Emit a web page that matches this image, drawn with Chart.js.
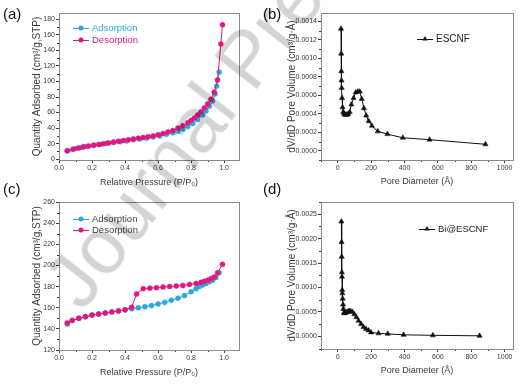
<!DOCTYPE html>
<html>
<head>
<meta charset="utf-8">
<title>Isotherms and pore size distribution</title>
<script src="https://cdn.jsdelivr.net/npm/chart.js"></script>
<style>
  html, body { margin: 0; padding: 0; background: #fff; }
  #sheet { position: relative; width: 525px; height: 390px; overflow: hidden; }
  #sheet canvas { position: absolute; }
  #mark {
    position: absolute; left: 30px; top: 272px;
    transform-origin: 0 0; transform: rotate(-52deg);
    font: 78px 'Liberation Sans', Arial, sans-serif; line-height: 1;
    white-space: nowrap; color: rgba(0, 0, 0, 0.17); pointer-events: none;
  }
</style>
</head>
<body>
<div id="sheet">
  <canvas id="chartA" width="262" height="195" style="left:0;top:0"></canvas>
  <canvas id="chartB" width="263" height="195" style="left:262px;top:0"></canvas>
  <canvas id="chartC" width="262" height="210" style="left:0;top:180px"></canvas>
  <canvas id="chartD" width="263" height="210" style="left:262px;top:180px"></canvas>
  <div id="mark">Journal Pre-proof</div>
</div>
<script>
// (a) ESCNF isotherm
const aAdsP = [0.05, 0.08, 0.11, 0.14, 0.17, 0.21, 0.25, 0.29, 0.33, 0.37, 0.41, 0.45, 0.49, 0.53, 0.57, 0.61, 0.65, 0.69, 0.72, 0.75, 0.78, 0.81, 0.84, 0.87, 0.89, 0.91, 0.93, 0.945, 0.955, 0.97];
const aAdsQ = [10.5, 12.5, 14, 15.5, 16.5, 18, 19, 20.5, 21.5, 22.5, 23.5, 25, 26, 27, 28.5, 30, 32, 34, 36, 39, 42, 46, 51, 57, 62, 68, 75, 84, 94, 112];
const aDesP = [0.05, 0.09, 0.12, 0.15, 0.18, 0.21, 0.24, 0.27, 0.30, 0.33, 0.36, 0.39, 0.42, 0.45, 0.48, 0.51, 0.54, 0.57, 0.60, 0.63, 0.66, 0.69, 0.72, 0.75, 0.78, 0.80, 0.82, 0.84, 0.86, 0.88, 0.90, 0.92, 0.94, 0.96, 0.98, 0.99];
const aDesQ = [11, 13, 14.5, 16, 17, 18, 19, 20, 21, 22, 23, 24, 25, 26, 27, 28, 29, 30, 31.5, 33, 35, 37, 40, 43, 47, 50, 53, 57, 61, 66, 71, 77, 86, 102, 148, 173];

// (b) ESCNF pore size distribution
const bDiam = [20, 21, 22, 23, 24, 26, 29, 33, 38, 44, 50, 57, 64, 72, 82, 95, 108, 120, 132, 144, 157, 171, 186, 205, 240, 298, 390, 550, 885];
const bVol = [0.00132, 0.00105, 0.00086, 0.00076, 0.00068, 0.00057, 0.00047, 0.00042, 0.00040, 0.00039, 0.00039, 0.00039, 0.00040, 0.00042, 0.00050, 0.00057, 0.00063, 0.00064, 0.00064, 0.00056, 0.00046, 0.00038, 0.00032, 0.00027, 0.00021, 0.00018, 0.00014, 0.00012, 0.00007];

// (c) Bi@ESCNF isotherm
const cAdsP = [0.05, 0.08, 0.12, 0.16, 0.20, 0.24, 0.28, 0.32, 0.36, 0.40, 0.44, 0.48, 0.52, 0.56, 0.60, 0.64, 0.68, 0.72, 0.76, 0.80, 0.83, 0.85, 0.87, 0.89, 0.91, 0.93, 0.95, 0.97];
const cAdsQ = [144.5, 148, 150, 151.5, 153, 154, 155, 156, 157, 158, 159, 160, 161, 162, 163.5, 165, 167, 169, 171.5, 175, 178, 180, 181.5, 183, 184.5, 186, 188.5, 193];
const cDesP = [0.05, 0.08, 0.12, 0.16, 0.20, 0.24, 0.28, 0.32, 0.36, 0.40, 0.44, 0.47, 0.51, 0.55, 0.59, 0.63, 0.67, 0.71, 0.75, 0.79, 0.83, 0.86, 0.88, 0.90, 0.92, 0.94, 0.96, 0.99];
const cDesQ = [145.5, 148, 150, 151.5, 153, 154, 155, 156, 157, 158, 160.5, 173, 178, 178.5, 179, 179.5, 180, 180.5, 181, 182, 183, 184, 185, 186, 187.5, 189, 193, 201];

// (d) Bi@ESCNF pore size distribution
const dDiam = [22, 23, 24, 25, 26, 27, 28, 30, 32, 34, 37, 41, 46, 52, 58, 64, 71, 79, 88, 100, 112, 125, 140, 155, 170, 185, 200, 245, 300, 395, 570, 850];
const dVol = [0.00235, 0.00193, 0.00163, 0.00131, 0.00122, 0.00095, 0.00088, 0.00077, 0.00065, 0.00056, 0.00048, 0.00047, 0.00048, 0.00049, 0.0005, 0.00051, 0.00052, 0.00051, 0.0005, 0.00045, 0.00039, 0.00032, 0.00025, 0.00019, 0.00015, 0.00012, 0.00008, 0.00006, 0.00005, 0.00003, 0.00002, 0.00001];

const FONT = "'Liberation Sans', Arial, sans-serif";
const INK = '#3a3a3a';
const FRAME = '#8a8a8a';
const CYAN = '#2ba6de';
const PINK = '#e2177c';

function xy(xs, ys) {
  return xs.map((x, i) => ({ x: x, y: ys[i] }));
}

function series(label, xs, ys, color, style, r) {
  return {
    label: label, data: xy(xs, ys), showLine: true,
    borderColor: color, backgroundColor: color, borderWidth: 1,
    pointStyle: style, pointRadius: r, pointBorderWidth: 0.5, pointBorderColor: color
  };
}

// odd multiples of the minor step = halfway between major ticks
function minorValues(scale, step) {
  const out = [];
  for (let k = Math.ceil(scale.min / step); k * step <= scale.max; k++) {
    if (k % 2 !== 0) out.push(k * step);
  }
  return out;
}

const framePlugin = {
  id: 'frame',
  afterDraw(chart, args, o) {
    const ctx = chart.ctx, a = chart.chartArea;
    const xs = chart.scales.x, ys = chart.scales.y;
    ctx.save();

    ctx.strokeStyle = INK;
    ctx.lineWidth = 1;
    ctx.beginPath();
    minorValues(xs, o.xMinor).forEach(v => {
      const px = Math.round(xs.getPixelForValue(v)) + 0.5;
      ctx.moveTo(px, a.bottom);
      ctx.lineTo(px, a.bottom + 2);
    });
    minorValues(ys, o.yMinor).forEach(v => {
      const py = Math.round(ys.getPixelForValue(v)) + 0.5;
      ctx.moveTo(a.left, py);
      ctx.lineTo(a.left - 2, py);
    });
    ctx.stroke();

    ctx.strokeStyle = FRAME;
    ctx.strokeRect(Math.round(a.left) + 0.5, Math.round(a.top) + 0.5,
      Math.round(a.right - a.left), Math.round(a.bottom - a.top));

    o.legend.forEach((item, i) => {
      const y = o.legendY + i * o.legendGap;
      ctx.strokeStyle = item.color;
      ctx.beginPath();
      ctx.moveTo(o.legendX, y + 0.5);
      ctx.lineTo(o.legendX + 16, y + 0.5);
      ctx.stroke();
      ctx.fillStyle = item.color;
      Chart.helpers.drawPoint(ctx, { pointStyle: item.style, radius: item.radius, rotation: 0, borderWidth: 0 },
        o.legendX + 8, y);
      ctx.fillStyle = item.text;
      ctx.font = o.legendSize + 'px ' + FONT;
      ctx.textAlign = 'left';
      ctx.textBaseline = 'middle';
      ctx.fillText(item.label, o.legendX + 19, y);
    });

    ctx.fillStyle = '#111';
    ctx.font = '15px ' + FONT;
    ctx.textAlign = 'left';
    ctx.textBaseline = 'middle';
    ctx.fillText(o.letter, o.letterX, o.letterY);
    ctx.restore();
  }
};

function axis(a, dir) {
  return {
    type: 'linear', min: a.min, max: a.max,
    afterFit: s => { if (dir === 'x') s.height = a.size; else s.width = a.size; },
    border: { display: false },
    grid: { drawOnChartArea: false, drawTicks: true, tickLength: 3, color: INK, tickColor: INK },
    ticks: {
      stepSize: a.step, includeBounds: false, padding: 1, color: INK, autoSkip: false, maxRotation: 0,
      font: { family: FONT, size: 7 }, callback: a.fmt
    },
    title: {
      display: true, text: a.title, color: INK,
      font: { family: FONT, size: dir === 'x' ? 9 : 10 }, padding: a.titlePad
    }
  };
}

function panel(id, cfg) {
  return new Chart(document.getElementById(id), {
    type: 'scatter',
    data: { datasets: cfg.datasets },
    options: {
      responsive: false, animation: false, events: [],
      layout: { padding: cfg.pad },
      plugins: { legend: { display: false }, tooltip: { enabled: false }, frame: cfg.frame },
      scales: { x: axis(cfg.x, 'x'), y: axis(cfg.y, 'y') }
    },
    plugins: [framePlugin]
  });
}

const fmt1 = v => v.toFixed(1);
const fmt4 = v => v.toFixed(4);
const fmt0 = v => String(Math.round(v));
const pressureTitle = 'Relative Pressure (P/P\u2080)';
const qtyTitle = 'Quantity Adsorbed (cm\u00b3/g,STP)';
const poreTitle = 'Pore Diameter (\u00c5)';
const volTitle = 'dV/dD Pore Volume (cm\u00b3/g\u00b7\u00c5)';

panel('chartA', {
  datasets: [
    series('Desorption', aDesP, aDesQ, PINK, 'circle', 2.5),
    series('Adsorption', aAdsP, aAdsQ, CYAN, 'circle', 2.5)
  ],
  pad: { left: 26, top: 13, right: 23, bottom: 0 },
  x: { min: 0, max: 1.09, step: 0.2, size: 35, fmt: fmt1, title: pressureTitle, titlePad: { top: 0, bottom: 7 } },
  y: { min: -1, max: 188, step: 20, size: 33, fmt: fmt0, title: qtyTitle, titlePad: { top: 5, bottom: 0 } },
  frame: {
    xMinor: 0.1, yMinor: 10, letter: '(a)', letterX: 3, letterY: 15,
    legendX: 73, legendY: 28, legendGap: 12, legendSize: 9.5,
    legend: [
      { label: 'Adsorption', color: CYAN, text: CYAN, style: 'circle', radius: 2.5 },
      { label: 'Desorption', color: PINK, text: PINK, style: 'circle', radius: 2.5 }
    ]
  }
});

panel('chartB', {
  datasets: [series('ESCNF', bDiam, bVol, '#111', 'triangle', 3)],
  pad: { left: 19, top: 13, right: 12, bottom: 0 },
  x: { min: -100, max: 1050, step: 200, size: 35, fmt: fmt0, title: poreTitle, titlePad: { top: 0, bottom: 8 } },
  y: { min: -0.0001, max: 0.00149, step: 0.0002, size: 40, fmt: fmt4, title: volTitle, titlePad: { top: 5, bottom: 0 } },
  frame: {
    xMinor: 100, yMinor: 0.0001, letter: '(b)', letterX: 1, letterY: 15,
    legendX: 155, legendY: 39, legendGap: 12, legendSize: 10,
    legend: [{ label: 'ESCNF', color: '#111', text: '#222', style: 'triangle', radius: 3 }]
  }
});

panel('chartC', {
  datasets: [
    series('Desorption', cDesP, cDesQ, PINK, 'circle', 2.5),
    series('Adsorption', cAdsP, cAdsQ, CYAN, 'circle', 2.5)
  ],
  pad: { left: 26, top: 22, right: 23, bottom: 0 },
  x: { min: 0, max: 1.09, step: 0.2, size: 40, fmt: fmt1, title: pressureTitle, titlePad: { top: 0, bottom: 12 } },
  y: { min: 120, max: 260, step: 20, size: 33, fmt: fmt0, title: qtyTitle, titlePad: { top: 5, bottom: 0 } },
  frame: {
    xMinor: 0.1, yMinor: 10, letter: '(c)', letterX: 3, letterY: 10,
    legendX: 73, legendY: 39, legendGap: 11, legendSize: 9.5,
    legend: [
      { label: 'Adsorption', color: CYAN, text: '#444', style: 'circle', radius: 2.5 },
      { label: 'Desorption', color: PINK, text: '#444', style: 'circle', radius: 2.5 }
    ]
  }
});

panel('chartD', {
  datasets: [series('Bi@ESCNF', dDiam, dVol, '#111', 'triangle', 3)],
  pad: { left: 19, top: 22, right: 12, bottom: 0 },
  x: { min: -100, max: 1050, step: 200, size: 41, fmt: fmt0, title: poreTitle, titlePad: { top: 0, bottom: 14 } },
  y: { min: -0.00026, max: 0.00275, step: 0.0005, size: 40, fmt: fmt4, title: volTitle, titlePad: { top: 5, bottom: 0 } },
  frame: {
    xMinor: 100, yMinor: 0.00025, letter: '(d)', letterX: 1, letterY: 10,
    legendX: 157, legendY: 49, legendGap: 12, legendSize: 9.5,
    legend: [{ label: 'Bi@ESCNF', color: '#111', text: '#222', style: 'triangle', radius: 3 }]
  }
});
</script>
</body>
</html>
